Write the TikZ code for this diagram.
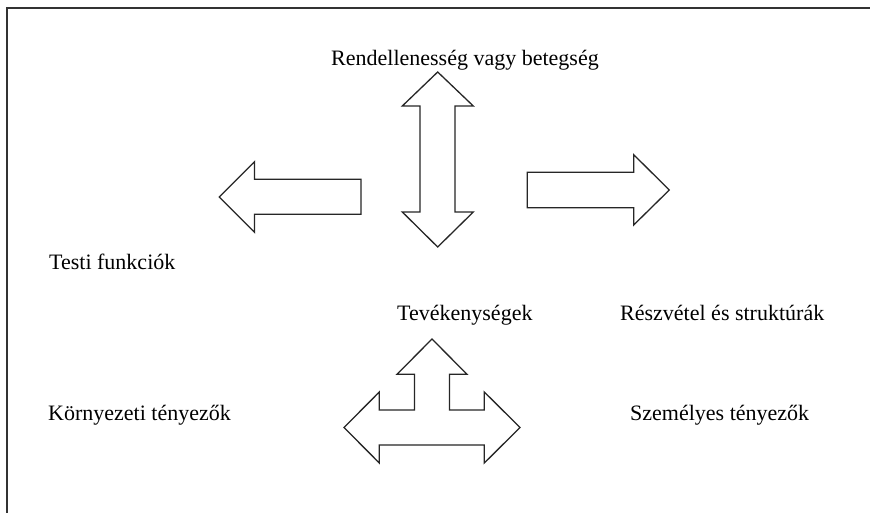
\documentclass[tikz,border=0pt]{standalone}
\usepackage{fontspec}
\setmainfont{Liberation Serif}
\begin{document}
\begin{tikzpicture}[x=1pt,y=-1pt,
  label/.style={anchor=base west,inner sep=0pt,font=\fontsize{22}{26}\selectfont},
  blockarrow/.style={draw=black!85,line width=1.3pt,line join=miter,fill=white}]
\useasboundingbox (0,0) rectangle (870,513);
% frame: top and left rule
\draw[line width=2.4pt,black!80] (7,513) -- (7,8) -- (870,8);

% labels
\node[label] (dis) at (331,66) {Rendellenesség vagy betegség};
\node[label] (body) at (49,269.3) {Testi funkciók};
\node[label] (act) at (397,320) {Tevékenységek};
\node[label] (part) at (620,320) {Részvétel és struktúrák};
\node[label] (env) at (48,420) {Környezeti tényezők};
\node[label] (pers) at (630,420) {Személyes tényezők};

% vertical double arrow
\draw[blockarrow] (437.7,72) -- (473.3,106) -- (455,106) -- (455,212)
  -- (473.3,212) -- (437.7,247) -- (402.3,212) -- (420,212) -- (420,106)
  -- (402.3,106) -- cycle;

% left arrow
\draw[blockarrow] (219.3,197) -- (254.5,161.7) -- (254.5,179.3) -- (361,179.3)
  -- (361,214.3) -- (254.5,214.3) -- (254.5,232.3) -- cycle;

% right arrow
\draw[blockarrow] (669.3,190) -- (633.7,154.7) -- (633.7,172.3) -- (527.3,172.3)
  -- (527.3,207.7) -- (633.7,207.7) -- (633.7,225) -- cycle;

% three-way arrow
\draw[blockarrow] (432,339) -- (467,374.3) -- (449.5,374.3) -- (449.5,410)
  -- (484.3,410) -- (484.3,392) -- (520,427.5) -- (484.3,463) -- (484.3,445)
  -- (379.3,445) -- (379.3,463) -- (344,427.5) -- (379.3,392) -- (379.3,410)
  -- (414.5,410) -- (414.5,374.3) -- (397,374.3) -- cycle;
\end{tikzpicture}
\end{document}
